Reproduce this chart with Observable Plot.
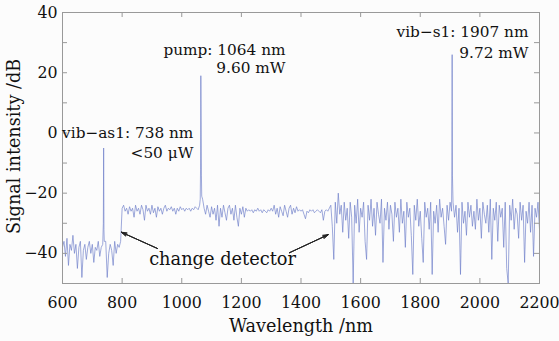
<!DOCTYPE html>
<html><head><meta charset="utf-8">
<script src="https://cdn.jsdelivr.net/npm/d3@7"></script>
<script src="https://cdn.jsdelivr.net/npm/@observablehq/plot@0.6"></script>
<style>
body{margin:0;background:#fcfcfc}
svg{display:block}
svg, svg text, svg tspan {font-family: "DejaVu Serif", "Liberation Serif", serif !important;}
</style>
</head><body><div id="chart"></div>
<script>
// Spectrum sampled every 5 nm from 600 nm (rows of 10 values = 50 nm each)
const gridStart = 600, gridStep = 5;
const baseDb = [
  -38,-36,-41,-35,-44,-37,-39,-34,-40,-37,      // 600
  -45,-38,-36,-48,-39,-37,-42,-38,-36,-40,      // 650
  -37,-43,-38,-39,-36,-41,-38,-37,-36,-36,      // 700
  -48,-40,-37,-39,-44,-36,-40,-37,-38,-36,      // 750
  -25,-24,-26,-25,-27,-24.5,-26,-25,-28,-24,    // 800
  -26,-25,-27,-24,-25.5,-29,-24,-26,-25,-27,    // 850
  -24,-26.5,-25,-28,-24.5,-26,-25,-27,-25,-24,  // 900
  -26,-25,-25.5,-24.5,-26,-25,-27,-25,-26,-24.5,// 950
  -25.5,-25,-26,-25,-25.5,-25,-26,-25,-25.5,-24.5, // 1000
  -25,-25.5,-24,4,-22,-25,-27,-24,-26,-28,      // 1050
  -24.5,-27,-25,-29,-24,-31,-25,-28,-24,-26.5,  // 1100
  -29,-25,-24,-27,-25,-29,-24,-28,-31,-25,      // 1150
  -27,-24.5,-28,-25,-26,-25.5,-26,-25.5,-26.5,-25.5, // 1200
  -26,-25,-26,-25.5,-26.5,-25.5,-26,-26.5,-25.5,-26, // 1250
  -25,-26,-24,-27,-25,-28,-24.5,-26,-27.5,-24,  // 1300
  -26,-28,-25,-24,-27,-25,-26.5,-24.5,-26,-25.5,// 1350
  -26,-25.5,-27,-28.5,-26,-26.5,-25.5,-26,-25.5,-26.5, // 1400
  -26,-25.5,-26,-26.5,-25.5,-29,-26,-25.5,-26,-25, // 1450
  -24,-31,-42,-23,-30,-20,-27,-24,-33,-23,      // 1500
  -29,-25,-35,-23,-28,-50,-24,-30,-22,-33,      // 1550
  -25,-28,-23,-36,-42,-24,-29,-22,-31,-25,      // 1600
  -34,-23,-27,-30,-22,-43,-25,-29,-23,-32,      // 1650
  -24,-27,-36,-23,-28,-25,-33,-22,-30,-26,      // 1700
  -38,-23,-28,-25,-34,-47,-24,-29,-22,-31,      // 1750
  -26,-35,-43,-23,-28,-25,-32,-23,-47,-26,      // 1800
  -30,-24,-33,-22,-28,-25,-31,-37,-24,-29,      // 1850
  -23,-26,-23,-28,-24,-33,-25,-47,-23,-30,      // 1900
  -26,-34,-23,-28,-24,-31,-26,-32,-22,-29,      // 1950
  -25,-35,-23,-27,-30,-24,-33,-22,-42,-25,      // 2000
  -29,-23,-36,-24,-28,-25,-38,-23,-45,-50,      // 2050
  -24,-29,-22,-32,-25,-27,-35,-23,-29,-24,      // 2100
  -43,-26,-30,-23,-33,-24,-41,-25,-28,-23,      // 2150
  -32                                           // 2200
];
// Narrow laser lines (nm, dB)
const peakWl = [737, 738, 739, 1062, 1063, 1064, 1066, 1067, 1906, 1907, 1908];
const peakDb = [-30, -5, -32, -22, -12, 19, -14, -21, -12, 26, -14];

// Axis ticks
const xTicks = [600, 800, 1000, 1200, 1400, 1600, 1800, 2000, 2200];
const yTicks = [-40, -20, 0, 20, 40];
const yMinorTicks = [-50, -40, -30, -20, -10, 0, 10, 20, 30, 40];

// Annotations
const annoText = ["vib\u2212as1: 738 nm", "<50 \u03bcW", "pump: 1064 nm", "9.60 mW", "vib\u2212s1: 1907 nm", "9.72 mW"];
const annoX = [1039, 1039, 1348, 1348, 2163, 2163];
const annoY = [-0.2, -6.8, 27.4, 21.4, 33.4, 26.4];
const noteText = ["change detector"];
const noteX = [1137];
const noteY = [-42.1];
const arrowX1 = [919, 1361], arrowY1 = [-38.4, -39.8];
const arrowX2 = [798, 1491], arrowY2 = [-33, -33.8];

const points = baseDb.map((v, i) => ({wl: gridStart + i * gridStep, db: v}))
  .concat(peakWl.map((w, i) => ({wl: w, db: peakDb[i]})))
  .sort((a, b) => a.wl - b.wl);
const annos = annoText.map((t, i) => ({t, x: annoX[i], y: annoY[i]}));
const notes = noteText.map((t, i) => ({t, x: noteX[i], y: noteY[i]}));
const arrows = arrowX1.map((x, i) => ({x1: x, y1: arrowY1[i], x2: arrowX2[i], y2: arrowY2[i]}));

const W = 559, H = 341, mL = 62, mR = 20, mT = 12, mB = 58;
const fw = W - mL - mR, fh = H - mT - mB;
const font = "DejaVu Serif";

const chart = Plot.plot({
  width: W, height: H,
  marginLeft: mL, marginRight: mR, marginTop: mT, marginBottom: mB,
  style: {fontFamily: font, fontSize: "15.5px", background: "#fcfcfc", color: "#111"},
  x: {domain: [600, 2200]},
  y: {domain: [-50, 40]},
  marks: [
    Plot.line(points, {x: "wl", y: "db", stroke: "#6f7fca", strokeWidth: 0.8, strokeOpacity: 0.85, clip: true}),
    Plot.frame({stroke: "#999", strokeWidth: 1}),
    Plot.tickX(xTicks, {x: d => d, insetTop: fh - 5, stroke: "#999"}),
    Plot.tickX(xTicks, {x: d => d, insetBottom: fh - 5, stroke: "#999"}),
    Plot.tickY(yMinorTicks, {y: d => d, insetRight: fw - 5, stroke: "#999"}),
    Plot.tickY(yMinorTicks, {y: d => d, insetLeft: fw - 5, stroke: "#999"}),
    Plot.axisX({ticks: xTicks, tickFormat: d => String(d), tickSize: 0, tickPadding: 13, label: null, fontSize: 15.8, fontFamily: font, fill: "#111"}),
    Plot.axisY({ticks: yTicks, tickFormat: d => (d < 0 ? "\u2212" + (-d) : String(d)), tickSize: 0, tickPadding: 5, label: null, fontSize: 15.8, fontFamily: font, fill: "#111"}),
    Plot.text(["Wavelength /nm"], {frameAnchor: "bottom", textAnchor: "middle", lineAnchor: "middle", dy: 42.4, fontSize: 17.6, fontFamily: font, fill: "#111"}),
    Plot.text(["Signal intensity /dB"], {frameAnchor: "left", textAnchor: "middle", lineAnchor: "middle", dx: -48, dy: -1.5, rotate: -90, fontSize: 17.6, fontFamily: font, fill: "#111"}),
    Plot.text(annos, {x: "x", y: "y", text: "t", textAnchor: "end", fontSize: 15.3, fontFamily: font, fill: "#111"}),
    Plot.text(notes, {x: "x", y: "y", text: "t", fontSize: 17.8, fontFamily: font, fill: "#111"}),
    ...[14, 28, 40].map(a => Plot.arrow(arrows, {x1: "x1", y1: "y1", x2: "x2", y2: "y2", stroke: "#222", strokeWidth: 0.9, headLength: 9, headAngle: a}))
  ]
});
document.getElementById("chart").appendChild(chart);
</script>
</body></html>
